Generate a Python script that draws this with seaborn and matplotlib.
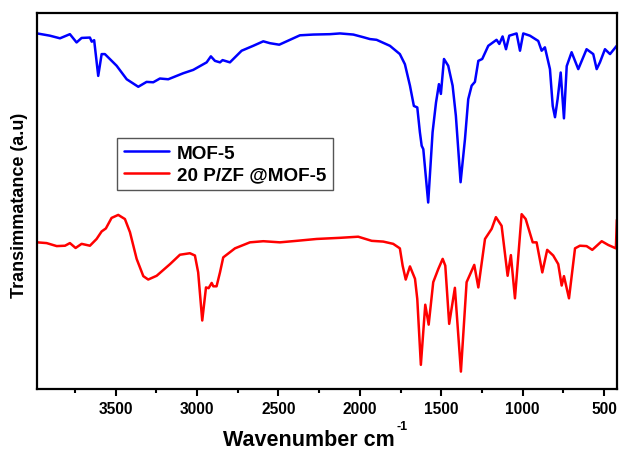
import numpy as np
import pandas as pd
import seaborn as sns
import matplotlib
matplotlib.use("Agg")
import matplotlib.pyplot as plt
from matplotlib.ticker import MultipleLocator

# ---- data ----
mof5_wn = [3982, 3904, 3842, 3781, 3740, 3709, 3658, 3647, 3632, 3607, 3586, 3566,
           3494, 3432, 3361, 3310, 3269, 3228, 3177, 3085, 3023, 2941, 2915, 2890,
           2859, 2843, 2798, 2726, 2655, 2593, 2552, 2495, 2429, 2368, 2286, 2184,
           2122, 2040, 1979, 1938, 1897, 1815, 1754, 1723, 1692, 1668, 1647, 1631,
           1620, 1610, 1580, 1553, 1532, 1514, 1502, 1483, 1457, 1430, 1410, 1381,
           1354, 1334, 1313, 1293, 1272, 1248, 1211, 1160, 1143, 1123, 1102, 1082,
           1037, 1016, 996, 955, 904, 883, 863, 832, 815, 801, 785, 766, 746, 729,
           699, 658, 607, 566, 545, 525, 494, 463, 422]
mof5_t = [94.6, 94.0, 93.3, 94.4, 92.2, 93.4, 93.5, 92.4, 92.8, 83.3, 89.1, 89.1,
          86.0, 82.4, 80.4, 81.7, 81.6, 82.6, 82.4, 84.0, 84.9, 86.9, 88.5, 87.3,
          86.9, 87.5, 86.9, 90.0, 91.3, 92.5, 92.0, 91.6, 92.9, 94.1, 94.3, 94.4,
          94.6, 94.3, 93.6, 93.1, 92.9, 91.3, 89.1, 86.4, 80.7, 75.3, 74.9, 68.3,
          64.7, 63.8, 49.6, 68.3, 76.2, 81.1, 78.5, 87.8, 86.0, 80.7, 72.7, 55.0,
          66.5, 77.1, 80.7, 81.7, 87.3, 87.8, 91.3, 92.9, 91.8, 93.8, 90.4, 94.0,
          94.6, 90.0, 94.6, 94.0, 92.6, 90.0, 90.9, 85.1, 75.3, 72.3, 77.1, 84.2,
          72.0, 85.9, 89.6, 85.1, 90.4, 89.1, 85.1, 86.9, 90.4, 89.1, 91.3]

pzf_wn = [3982, 3924, 3862, 3811, 3781, 3746, 3709, 3658, 3617, 3586, 3560, 3525,
          3484, 3443, 3412, 3371, 3330, 3300, 3248, 3166, 3105, 3044, 3013, 2993,
          2968, 2945, 2929, 2910, 2900, 2880, 2859, 2839, 2767, 2675, 2593, 2491,
          2388, 2265, 2122, 2010, 1927, 1856, 1795, 1754, 1737, 1718, 1692, 1661,
          1647, 1625, 1598, 1577, 1549, 1518, 1491, 1475, 1451, 1416, 1379, 1344,
          1297, 1272, 1231, 1190, 1164, 1129, 1092, 1072, 1047, 1006, 981, 938,
          914, 879, 849, 812, 781, 760, 746, 715, 678, 648, 607, 572, 514, 474,
          427, 421]
pzf_t = [39.0, 38.8, 38.0, 38.1, 38.8, 37.5, 38.6, 38.1, 39.9, 41.9, 42.7, 45.5,
         46.3, 45.2, 41.7, 34.6, 30.0, 29.1, 30.1, 33.2, 35.7, 36.1, 35.5, 31.0,
         18.2, 27.0, 26.8, 28.2, 27.3, 27.3, 31.0, 35.0, 37.4, 39.0, 39.3, 39.0,
         39.4, 39.9, 40.2, 40.5, 39.4, 39.2, 38.6, 37.4, 32.8, 29.1, 32.6, 29.3,
         23.9, 6.4, 22.4, 17.1, 28.4, 31.9, 34.6, 32.8, 17.3, 26.9, 4.6, 28.4,
         33.0, 27.0, 39.9, 42.6, 45.7, 43.4, 30.1, 35.6, 24.1, 46.5, 45.2, 39.0,
         39.0, 31.0, 37.0, 35.5, 33.2, 27.5, 30.0, 24.1, 37.4, 38.1, 38.0, 37.0,
         39.3, 38.3, 37.4, 45.0]

labels = ["MOF-5", "20 P/ZF @MOF-5"]
colors = ["#0000ff", "#ff0000"]
xticks = [3500, 3000, 2500, 2000, 1500, 1000, 500]

df = pd.concat([
    pd.DataFrame({"wn": mof5_wn, "T": mof5_t, "sample": labels[0]}),
    pd.DataFrame({"wn": pzf_wn, "T": pzf_t, "sample": labels[1]}),
])

sns.set_theme(style="ticks")
plt.rcParams["font.family"] = ["Liberation Sans", "DejaVu Sans"]
plt.rcParams["font.weight"] = "bold"
plt.rcParams["text.color"] = "black"
plt.rcParams["axes.labelcolor"] = "black"
plt.rcParams["xtick.color"] = "black"
plt.rcParams["ytick.color"] = "black"

fig = plt.figure(figsize=(6.19, 4.56), dpi=100)
ax = fig.add_axes([0.0598, 0.145, 0.937, 0.824])

sns.lineplot(data=df, x="wn", y="T", hue="sample", palette=colors,
             estimator=None, sort=False, linewidth=1.8, ax=ax)

ax.set_xlim(3983, 420)
ax.set_ylim(0, 100)
ax.set_xticks(xticks)
ax.set_xticklabels([str(t) for t in xticks], fontsize=11.2, fontweight="bold")
ax.xaxis.set_minor_locator(MultipleLocator(250))
ax.tick_params(axis="x", which="major", direction="out", length=5, width=1.5, pad=4)
ax.tick_params(axis="x", which="minor", direction="out", length=3, width=1.5)
ax.set_yticks([])
for s in ax.spines.values():
    s.set_linewidth(1.6)
    s.set_color("black")

ax.set_xlabel("Wavenumber cm", fontsize=15.5, fontweight="bold")
ax.xaxis.set_label_coords(0.468, -0.108)
ax.set_ylabel("Transimmatance (a.u)", fontsize=13, fontweight="bold")
ax.yaxis.set_label_coords(-0.016, 0.49)

leg = ax.legend(loc="upper left", bbox_to_anchor=(0.138, 0.668), borderaxespad=0,
                fancybox=False, framealpha=1, edgecolor="#555555",
                prop={"size": 13.6, "weight": "bold"}, handlelength=2.4,
                labelspacing=0.22, borderpad=0.36, handletextpad=0.4, title=None)
leg.get_frame().set_linewidth(1.0)
for l in leg.get_lines():
    l.set_linewidth(1.8)

# superscript "-1" after the x-axis label
fig.canvas.draw()
bb = ax.xaxis.label.get_window_extent(fig.canvas.get_renderer())
fig.text((bb.x1 + 2) / fig.bbox.width, (bb.y1 + 9) / fig.bbox.height, "-1",
         fontsize=9, fontweight="bold", ha="left", va="top", color="black")

fig.savefig("out.png", dpi=100)
